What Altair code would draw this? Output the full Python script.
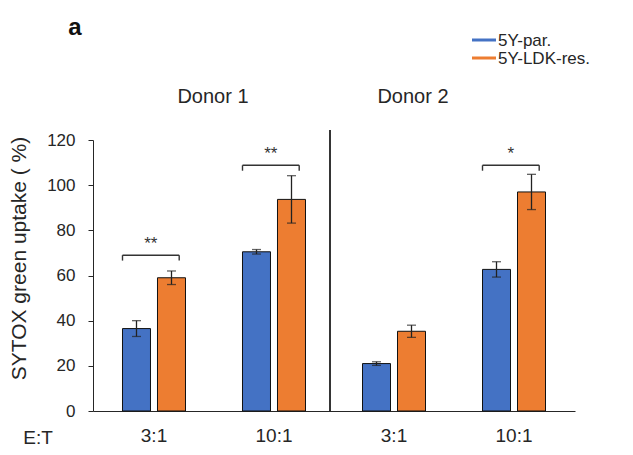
import altair as alt
import pandas as pd

# ---- data ----
groups = ["D1 3:1", "D1 10:1", "D2 3:1", "D2 10:1"]
group_labels = ["3:1", "10:1", "3:1", "10:1"]
series = ["5Y-par.", "5Y-LDK-res."]
colors = ["#4472C4", "#ED7D31"]
par_mean = [36.5, 70.5, 21.0, 62.7]
par_err = [3.5, 1.0, 0.8, 3.4]
res_mean = [59.0, 93.7, 35.3, 97.0]
res_err = [3.0, 10.5, 2.7, 7.8]
sig_groups = ["D1 3:1", "D1 10:1", "D2 10:1"]
sig_labels = ["**", "**", "*"]
sig_y = [69.0, 108.8, 108.8]
donor_titles = ["Donor 1", "Donor 2"]

rows = []
for i, g in enumerate(groups):
    rows.append({"group": g, "series": series[0], "mean": par_mean[i],
                 "lo": par_mean[i] - par_err[i], "hi": par_mean[i] + par_err[i]})
    rows.append({"group": g, "series": series[1], "mean": res_mean[i],
                 "lo": res_mean[i] - res_err[i], "hi": res_mean[i] + res_err[i]})
df = pd.DataFrame(rows)
sig = pd.DataFrame({"group": sig_groups, "label": sig_labels, "y": sig_y})

label_map = "{" + ",".join(f"'{g}':'{l}'" for g, l in zip(groups, group_labels)) + "}"

FONT = "Liberation Sans"
INK = "#262626"

xscale = alt.Scale(domain=groups, paddingInner=0.475, paddingOuter=0.2458)
yscale = alt.Scale(domain=[0, 120], nice=False)
xoff = alt.XOffset("series:N", scale=alt.Scale(domain=series, paddingInner=0.2, paddingOuter=0))

x_enc = alt.X("group:N", scale=xscale, sort=groups,
              axis=alt.Axis(title=None, ticks=False, labelAngle=0, labelFontSize=19,
                            labelFontWeight="normal",
                            labelPadding=15, labelExpr=f"{label_map}[datum.value]",
                            domainColor=INK, labelColor=INK, labelFont=FONT))
y_enc = alt.Y("mean:Q", scale=yscale,
              axis=alt.Axis(title="SYTOX  green uptake ( %)", values=list(range(0, 121, 20)),
                            grid=False, tickSize=5, tickColor=INK, domainColor=INK,
                            labelFontSize=17, labelPadding=13, labelColor=INK, labelFont=FONT,
                            titleFontSize=21, titleFontWeight="normal", titleColor=INK,
                            titleFont=FONT, titlePadding=17, titleY=118))

bars = alt.Chart(df).mark_bar(stroke="#111111", strokeWidth=1).encode(
    x=x_enc, xOffset=xoff, y=y_enc,
    fill=alt.Fill("series:N", scale=alt.Scale(domain=series, range=colors), legend=None),
)

err = alt.Chart(df).mark_rule(color="#222222", strokeWidth=1.3).encode(
    x=alt.X("group:N", scale=xscale, sort=groups), xOffset=xoff,
    y=alt.Y("lo:Q", scale=yscale), y2="hi:Q",
)
cap_lo = alt.Chart(df).mark_tick(color="#222222", thickness=1.3, size=9, orient="horizontal").encode(
    x=alt.X("group:N", scale=xscale, sort=groups), xOffset=xoff,
    y=alt.Y("lo:Q", scale=yscale),
)
cap_hi = alt.Chart(df).mark_tick(color="#222222", thickness=1.3, size=9, orient="horizontal").encode(
    x=alt.X("group:N", scale=xscale, sort=groups), xOffset=xoff,
    y=alt.Y("hi:Q", scale=yscale),
)

# legend (line symbols), one row per series
legend_layers = []
for i, (s, c) in enumerate(zip(series, colors)):
    ldf = pd.DataFrame({"series": [s]})
    yrow = -100 + i * 18
    legend_layers.append(alt.Chart(ldf).mark_rule(color=c, strokeWidth=3).encode(
        x=alt.value(379), x2=alt.value(403), y=alt.value(yrow)))
    legend_layers.append(alt.Chart(ldf).mark_text(font=FONT, fontSize=17, color=INK,
                                                  align="left", baseline="middle").encode(
        x=alt.value(405), y=alt.value(yrow + 1), text="series:N"))

bracket_h = alt.Chart(sig).mark_rule(color="#333333", strokeWidth=1.4).encode(
    x=alt.X("group:N", scale=xscale, sort=groups, bandPosition=0),
    x2=alt.X2("group:N", bandPosition=0.9),
    y=alt.Y("y:Q", scale=yscale),
)
bracket_l = alt.Chart(sig).transform_calculate(y2="datum.y - 2.4").mark_rule(
    color="#333333", strokeWidth=1.4).encode(
    x=alt.X("group:N", scale=xscale, sort=groups, bandPosition=0),
    y=alt.Y("y:Q", scale=yscale), y2="y2:Q",
)
bracket_r = alt.Chart(sig).transform_calculate(y2="datum.y - 2.4").mark_rule(
    color="#333333", strokeWidth=1.4).encode(
    x=alt.X("group:N", scale=xscale, sort=groups, bandPosition=0.9),
    y=alt.Y("y:Q", scale=yscale), y2="y2:Q",
)
stars = alt.Chart(sig).mark_text(font=FONT, fontSize=17, color="#333333", baseline="bottom", dy=-2).encode(
    x=alt.X("group:N", scale=xscale, sort=groups, bandPosition=0.45),
    y=alt.Y("y:Q", scale=yscale), text="label:N",
)

divider = alt.Chart(sig).mark_rule(color="#333333", strokeWidth=1.5).encode(
    x=alt.value(237), y=alt.value(-10), y2=alt.value(271),
)

titles_df = pd.DataFrame({"t": donor_titles, "px": [120, 320]})
donor = alt.Chart(titles_df).mark_text(font=FONT, fontSize=20, color=INK, baseline="middle").encode(
    x=alt.X("px:Q", scale=None), y=alt.value(-43), text="t:N",
)
et = alt.Chart(sig.head(1)).mark_text(font=FONT, fontSize=19, color=INK, baseline="middle").encode(
    x=alt.value(-55), y=alt.value(298), text=alt.value("E:T"),
)
panel = alt.Chart(sig.head(1)).mark_text(font=FONT, fontSize=24, fontWeight="bold", color="#111111",
                                        baseline="middle").encode(
    x=alt.value(-18), y=alt.value(-112), text=alt.value("a"),
)

chart = alt.layer(
    bars, err, cap_lo, cap_hi, bracket_h, bracket_l, bracket_r, stars,
    divider, donor, et, panel, *legend_layers,
).properties(
    width=482, height=271,
    padding={"left": 85, "top": 132, "right": 40, "bottom": 36},
    autosize=alt.AutoSizeParams(type="none"),
).configure_view(stroke=None)

chart.save("out.html", embed_options={"renderer": "svg", "actions": False})
